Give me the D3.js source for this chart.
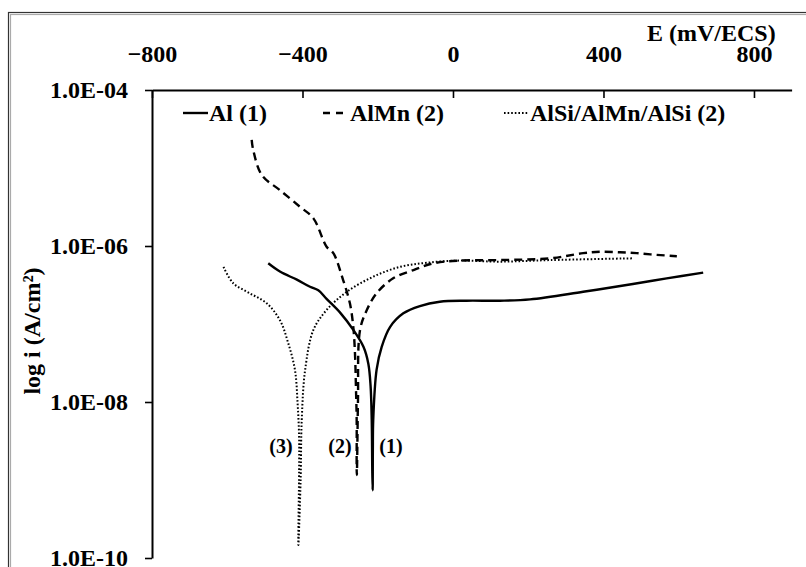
<!DOCTYPE html>
<html>
<head>
<meta charset="utf-8">
<script src="https://cdn.jsdelivr.net/npm/d3@7"></script>
<style>
  html, body { margin: 0; padding: 0; background: #fff; }
  svg { display: block; }
  text { font-family: "Liberation Serif", "Times New Roman", serif; font-weight: bold; fill: #000; }
</style>
</head>
<body>
<svg id="chart" width="806" height="567"></svg>
<script>
// Potentiodynamic polarisation curves: potential E (mV/ECS) vs current density i (A/cm²)

// Al (1)
const alE = [-491, -460, -415, -380, -358, -336, -300, -265, -238, -225, -219, -216, -214.5, -213.5,
             -213, -212, -203, -189.5, -167, -132, -88, -35, 36, 125, 205, 346, 478, 568, 665];
const alI = [6.0e-7, 4.7e-7, 3.7e-7, 3.0e-7, 2.7e-7, 2.1e-7, 1.4e-7, 8.4e-8, 5.1e-8, 3.1e-8, 1.6e-8, 5.9e-9, 1.3e-9, 7.4e-10,
             2.4e-9, 5.9e-9, 2.6e-8, 5.1e-8, 9.2e-8, 1.37e-7, 1.70e-7, 1.93e-7, 1.99e-7, 1.99e-7, 2.07e-7, 2.59e-7, 3.26e-7, 3.85e-7, 4.55e-7];

// AlMn (2)
const almnE = [-535, -531, -508, -460, -407, -371, -336, -318, -292, -274, -265, -260.5, -258, -256, -256, -255.5,
               -254, -252.5, -247, -229, -203, -159, -105, -52, 19, 125, 258, 346, 391, 444, 488, 541, 595];
const almnI = [2.29e-5, 1.70e-5, 8.1e-6, 5.2e-6, 3.19e-6, 2.26e-6, 9.8e-7, 8.1e-7, 3.66e-7, 1.84e-7, 9.2e-8, 4.2e-8, 1.57e-8, 5.9e-9, 1.34e-9, 1.16e-9,
               3.26e-9, 1.06e-8, 8.4e-8, 1.51e-7, 2.48e-7, 3.85e-7, 4.92e-7, 6.0e-7, 6.5e-7, 6.6e-7, 6.95e-7, 8.1e-7, 8.45e-7, 8.3e-7, 8.1e-7, 7.7e-7, 7.4e-7];

// AlSi/AlMn/AlSi
const sandE = [-610, -584, -540, -495, -460, -438, -420, -413, -409, -409, -411,
               -405, -402, -393, -371, -336, -282, -212, -141, -70, 19, 125, 258, 479];
const sandI = [5.4e-7, 3.33e-7, 2.48e-7, 1.84e-7, 1.12e-7, 5.7e-8, 2.57e-8, 9.6e-9, 3.59e-9, 1.34e-9, 1.47e-10,
               1.0e-9, 5.9e-9, 2.57e-8, 8.4e-8, 1.51e-7, 2.59e-7, 4.04e-7, 5.4e-7, 6.1e-7, 6.5e-7, 6.3e-7, 6.6e-7, 6.95e-7];

const seriesNames = ["Al (1)", "AlMn (2)", "AlSi/AlMn/AlSi (2)"];
const curveTags = ["(1)", "(2)", "(3)"];
const xTicks = [-800, -400, 0, 400, 800];
const yTicks = [1e-4, 1e-6, 1e-8, 1e-10];

const svg = d3.select("#chart");

// outer frame (double rule)
svg.append("rect").attr("x", 8.5).attr("y", 12.5).attr("width", 800).attr("height", 560)
  .attr("fill", "none").attr("stroke", "#333").attr("stroke-width", 1.2);
svg.append("rect").attr("x", 10.5).attr("y", 14.5).attr("width", 800).attr("height", 560)
  .attr("fill", "none").attr("stroke", "#aaa").attr("stroke-width", 1.2);

const x = d3.scaleLinear().domain([-800, 900]).range([152, 791.6]);
const y = d3.scaleLog().domain([1e-4, 1e-10]).range([90, 558]);

// top potential axis, ticks pointing into the plot
const xAxis = d3.axisTop(x).tickValues(xTicks).tickFormat(d3.format("d"))
  .tickSizeInner(-8).tickSizeOuter(0).tickPadding(28);
const gx = svg.append("g").attr("transform", "translate(0,90)").call(xAxis);
gx.select(".domain").attr("stroke", "#000").attr("stroke-width", 2);
gx.selectAll(".tick line").attr("stroke", "#000").attr("stroke-width", 1.6);
gx.selectAll(".tick text").style("font-size", "24px").attr("fill", "#000");

// left current-density axis
const fmtExp = d => {
  const e = Math.round(Math.log10(d));
  return "1.0E-" + String(-e).padStart(2, "0");
};
const yAxis = d3.axisLeft(y).tickValues(yTicks).tickFormat(fmtExp)
  .tickSizeInner(7).tickSizeOuter(0).tickPadding(17);
const gy = svg.append("g").attr("transform", "translate(152,0)").call(yAxis);
gy.select(".domain").attr("stroke", "#000").attr("stroke-width", 2);
gy.selectAll(".tick line").attr("stroke", "#000").attr("stroke-width", 1.6);
gy.selectAll(".tick text").style("font-size", "24px").attr("fill", "#000");

// axis titles
svg.append("text").attr("x", 647).attr("y", 41).style("font-size", "24px").text("E (mV/ECS)");
svg.append("text").attr("transform", "translate(40,331) rotate(-90)")
  .attr("text-anchor", "middle").style("font-size", "24px").text("log i (A/cm²)");

// curves
const line = d3.line().x(d => x(d[0])).y(d => y(d[1])).curve(d3.curveCatmullRom.alpha(0.5));
const styles = [
  { dash: null, width: 2.4 },
  { dash: "8,5", width: 2.4 },
  { dash: "1.6,2", width: 2 }
];
const series = [d3.zip(alE, alI), d3.zip(almnE, almnI), d3.zip(sandE, sandI)];
series.forEach((pts, k) => {
  svg.append("path").datum(pts).attr("d", line)
    .attr("fill", "none").attr("stroke", "#000")
    .attr("stroke-width", styles[k].width)
    .attr("stroke-dasharray", styles[k].dash)
    .attr("stroke-linejoin", "round");
});

// curve tags near the corrosion potentials
const tagPos = [[391, 453], [340, 453], [281, 453]];
curveTags.forEach((t, k) => {
  svg.append("text").attr("x", tagPos[k][0]).attr("y", tagPos[k][1])
    .attr("text-anchor", "middle").style("font-size", "20px").text(t);
});

// legend
const legendX = [183, 323, 504];
const legendText = [209, 350, 530];
seriesNames.forEach((name, k) => {
  svg.append("line").attr("x1", legendX[k]).attr("x2", legendX[k] + 25)
    .attr("y1", 113).attr("y2", 113)
    .attr("stroke", "#000").attr("stroke-width", styles[k].width)
    .attr("stroke-dasharray", k === 1 ? "7,6" : styles[k].dash);
  svg.append("text").attr("x", legendText[k]).attr("y", 121)
    .style("font-size", "24px").text(name);
});
</script>
</body>
</html>
